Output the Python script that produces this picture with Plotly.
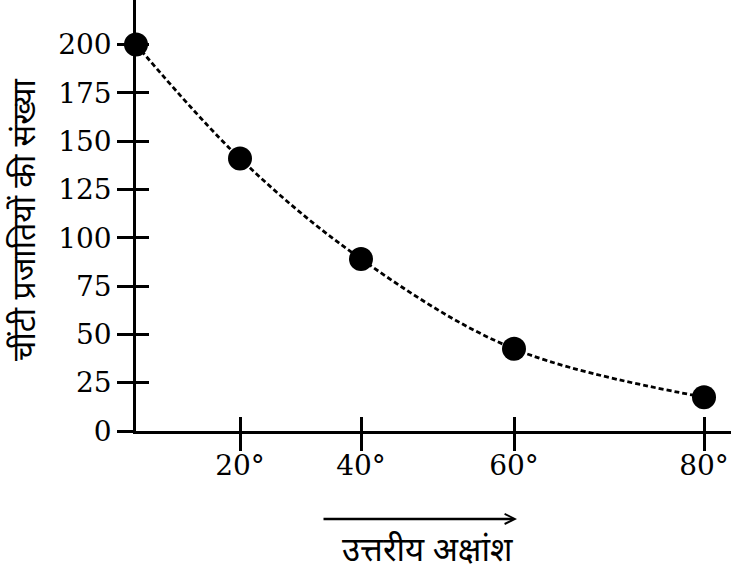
import plotly.graph_objects as go

# latitude ticks and where they sit along the drawn x axis (axis units)
lat_labels = ["20°", "40°", "60°", "80°"]
lat_pos = [104, 225, 378, 568]

# observed points: first one sits on the y axis
point_pos = [0, 104, 225, 378, 568]
ant_species = [200, 141, 89, 42.5, 17.5]

y_ticks = [0, 25, 50, 75, 100, 125, 150, 175, 200]

serif = "DejaVu Serif, Liberation Serif, serif"
x_range = [0, 595]
y_range = [0, 223]

fig = go.Figure()

# dotted smooth trend line
fig.add_trace(go.Scatter(
    x=point_pos, y=ant_species, mode="lines",
    line=dict(color="black", width=2.8, dash="5px,3px", shape="spline", smoothing=1),
    hoverinfo="skip"))

# black dots
fig.add_trace(go.Scatter(
    x=point_pos, y=ant_species, mode="markers",
    marker=dict(color="black", size=24), cliponaxis=False, hoverinfo="skip"))

# invisible copy on the overlay axes (they draw the inner half of the cross ticks)
fig.add_trace(go.Scatter(x=point_pos, y=ant_species, xaxis="x2", yaxis="y2",
                         mode="markers", marker=dict(opacity=0), hoverinfo="skip"))

axis_common = dict(showgrid=False, zeroline=False, showline=True, automargin=False,
                   linecolor="black", linewidth=2.5, tickwidth=2.5, tickcolor="black",
                   tickmode="array", fixedrange=True)

fig.update_layout(
    width=731, height=573,
    margin=dict(l=136, r=0, t=0, b=142, autoexpand=False),
    plot_bgcolor="white", paper_bgcolor="white",
    showlegend=False,
    font=dict(family=serif, color="black", size=28),
    xaxis=dict(range=x_range, tickvals=lat_pos, ticktext=lat_labels,
               ticks="outside", ticklen=17, ticklabelstandoff=-9,
               tickfont=dict(size=28), **axis_common),
    yaxis=dict(range=y_range, tickvals=y_ticks,
               ticks="outside", ticklen=16, tickfont=dict(size=28), **axis_common),
    xaxis2=dict(overlaying="x", anchor="y", side="bottom", range=x_range, tickvals=lat_pos,
                ticks="inside", ticklen=14, showticklabels=False, **axis_common),
    yaxis2=dict(overlaying="y", anchor="x", side="left", range=y_range, tickvals=y_ticks,
                ticks="inside", ticklen=13, showticklabels=False, **axis_common),
)

# y axis title (rotated)
fig.add_annotation(text="चींटी प्रजातियों की संख्या", xref="paper", yref="paper",
                   x=-0.183, y=0.49, xanchor="center", yanchor="middle", textangle=-90,
                   showarrow=False,
                   font=dict(size=32, family="Noto Sans Devanagari, Noto Sans, sans-serif"))

# direction arrow under the x axis
fig.add_annotation(x=381, y=-0.204, xref="x", yref="paper", ax=-195, ay=0,
                   text="", showarrow=True, arrowhead=5, arrowsize=0.8,
                   arrowwidth=2.5, arrowcolor="black")

fig.add_annotation(text="उत्तरीय अक्षांश", xref="x", yref="paper", x=291, y=-0.281,
                   xanchor="center", yanchor="middle", showarrow=False,
                   font=dict(size=33, family="Noto Sans Devanagari, serif"))

# the page body has a default 8px margin; drop it so the figure fills the window
fig.write_html("out.html", config={"displayModeBar": False},
               post_script="document.body.style.margin='0';")
